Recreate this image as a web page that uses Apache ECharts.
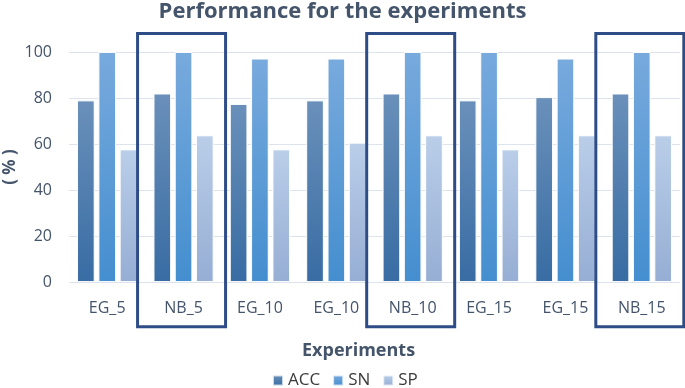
<!DOCTYPE html>
<html>
<head>
<meta charset="utf-8">
<script src="https://cdn.jsdelivr.net/npm/echarts@6/dist/echarts.min.js"></script>
<style>html,body{margin:0;padding:0;background:#fff}#c{width:685px;height:388px}</style>
</head>
<body>
<div id="c"></div>
<script>
var categories = ['EG_5', 'NB_5', 'EG_10', 'EG_10', 'NB_10', 'EG_15', 'EG_15', 'NB_15'];
var accValues = [79, 82, 77.4, 79, 82, 79, 80.4, 82];
var snValues = [100, 100, 97.2, 97.2, 100, 100, 97.2, 100];
var spValues = [57.7, 63.8, 57.7, 60.6, 63.8, 57.7, 63.8, 63.8];
var yTicks = [0, 20, 40, 60, 80, 100];
var highlighted = [1, 4, 7];

var font = '"Open Sans", "Noto Sans", sans-serif';
var textColor = '#44546a';

function grad(top, bottom) {
  return new echarts.graphic.LinearGradient(0, 0, 0, 1, [
    { offset: 0, color: top }, { offset: 1, color: bottom }
  ]);
}

var chart = echarts.init(document.getElementById('c'), null, { renderer: 'canvas' });
var barCommon = {
  type: 'bar',
  barCategoryGap: '21%',
  barGap: '20%'
};
var border = { borderColor: 'rgba(255,255,255,0.7)', borderWidth: 1 };
chart.setOption({
  animation: false,
  title: [{
    text: 'Performance for the experiments',
    left: 'center', top: -4,
    textStyle: { fontFamily: font, fontSize: 22, fontWeight: 'bold', color: textColor }
  }, {
    text: 'Experiments',
    left: 297, top: 337,
    textStyle: { fontFamily: font, fontSize: 18, fontWeight: 'bold', color: textColor }
  }],
  legend: {
    left: 267, top: 367,
    itemWidth: 10, itemHeight: 10, itemGap: 12,
    icon: 'rect',
    textStyle: { fontFamily: font, fontSize: 17, color: '#3b3b3b' },
    data: ['ACC', 'SN', 'SP']
  },
  grid: { left: 69, right: 5, top: 52, bottom: 106, containLabel: false, outerBoundsMode: 'none' },
  xAxis: {
    type: 'category',
    data: categories,
    axisLine: { show: false },
    axisTick: { show: false },
    axisLabel: { fontFamily: font, fontSize: 16, color: textColor, margin: 18 }
  },
  yAxis: {
    type: 'value',
    min: 0, max: 100, interval: 20,
    name: '( % )',
    nameLocation: 'middle',
    nameRotate: 90,
    nameGap: 50,
    nameMoveOverlap: false,
    nameTextStyle: { fontFamily: font, fontSize: 17, fontWeight: 'bold', color: textColor },
    axisLine: { show: false },
    axisTick: { show: false },
    axisLabel: {
      fontFamily: font, fontSize: 16, color: textColor, margin: 17,
      formatter: function (v) { return yTicks.indexOf(v) >= 0 ? String(v) : ''; }
    },
    splitLine: { lineStyle: { color: '#dde3ec', width: 1 } }
  },
  series: [
    Object.assign({}, barCommon, { name: 'ACC', data: accValues,
      itemStyle: Object.assign({}, border, { color: grad('#6a90ba', '#386ca3') }) }),
    Object.assign({}, barCommon, { name: 'SN', data: snValues,
      itemStyle: Object.assign({}, border, { color: grad('#78aadd', '#448ecf') }) }),
    Object.assign({}, barCommon, { name: 'SP', data: spValues,
      itemStyle: Object.assign({}, border, { color: grad('#bacee9', '#96aed4') }) })
  ]
});

// highlight boxes around NB categories, placed via the axes
var boxes = highlighted.map(function (idx) {
  var c = chart.convertToPixel({ xAxisIndex: 0 }, idx);
  var yTop = chart.convertToPixel({ yAxisIndex: 0 }, 108);
  var yBot = chart.convertToPixel({ yAxisIndex: 0 }, -19.5);
  return {
    type: 'rect',
    shape: { x: c - 46, y: yTop, width: 88, height: yBot - yTop },
    style: { fill: 'none', stroke: '#2e4d87', lineWidth: 3 },
    z: 10
  };
});
chart.setOption({ graphic: boxes });
</script>
</body>
</html>
